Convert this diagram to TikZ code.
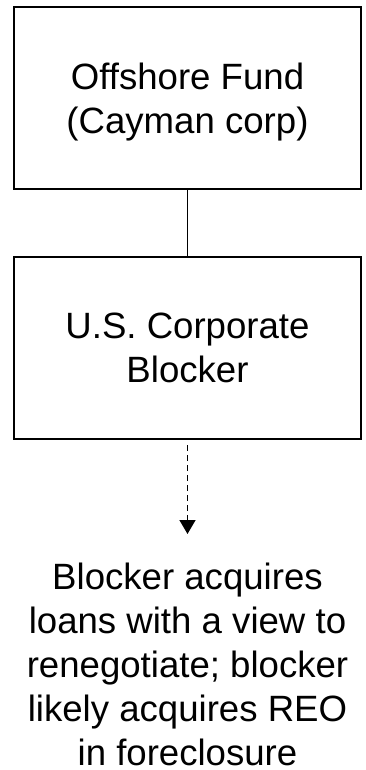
\documentclass[tikz,border=0pt]{standalone}
\usepackage{fontspec}
\setmainfont{Liberation Sans}
\usetikzlibrary{arrows.meta}
\begin{document}
\begin{tikzpicture}[x=1pt,y=-1pt,
  box/.style={draw, line width=2pt, minimum width=347pt, minimum height=182pt, inner sep=0pt, align=center, font=\fontsize{36.6}{44}\selectfont},
  txt/.style={inner sep=0pt, align=center, font=\fontsize{36.6}{44}\selectfont},
  link/.style={line width=1.5pt},
  dlink/.style={line width=1.5pt, dash pattern=on 6pt off 4pt, shorten <=5pt, -{Triangle[length=14pt,width=16pt]}}]
\useasboundingbox (0,0) rectangle (365,770);
\node[box] (fund) at (187.5,98) {Offshore Fund\\\smash{(Cayman corp)}};
\node[box] (blocker) at (187.5,348) {U.S. Corporate\\Blocker};
\node[txt] (result) at (187.5,664.2) {Blocker acquires\\loans with a view to\\renegotiate; blocker\\likely acquires REO\\in foreclosure};
\coordinate (tip) at (187.5,534);
\draw[link] (fund) -- (blocker);
\draw[dlink] (blocker) -- (tip);
\end{tikzpicture}
\end{document}
